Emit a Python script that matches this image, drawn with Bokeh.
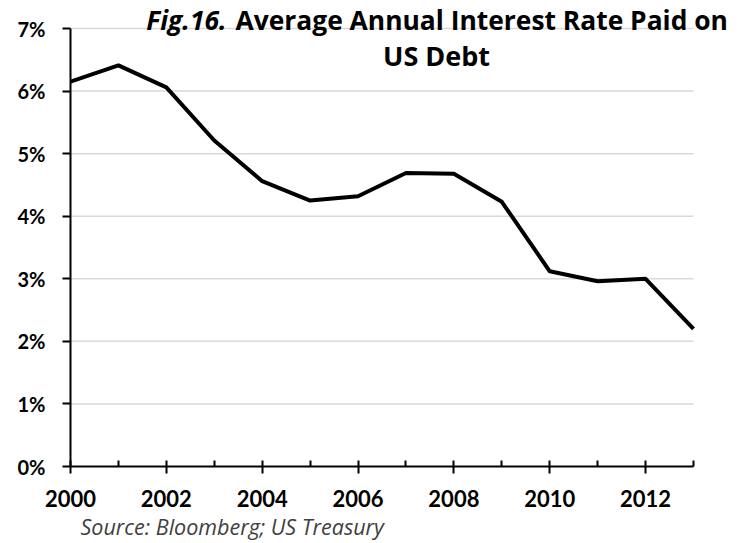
from bokeh.plotting import figure
from bokeh.models import FixedTicker, Label, Range1d, Title
from bokeh.embed import file_html
from bokeh.resources import INLINE

years = [2000, 2001, 2002, 2003, 2004, 2005, 2006, 2007, 2008, 2009, 2010, 2011, 2012, 2013]
rates = [6.15, 6.41, 6.06, 5.21, 4.56, 4.25, 4.32, 4.69, 4.68, 4.23, 3.12, 2.96, 3.00, 2.20]

x_major = [2000, 2002, 2004, 2006, 2008, 2010, 2012]
x_minor = [2001, 2003, 2005, 2007, 2009, 2011, 2013]
y_ticks = [0, 1, 2, 3, 4, 5, 6, 7]
y_labels = ["0%", "1%", "2%", "3%", "4%", "5%", "6%", "7%"]

title_fig = "Fig.16."
title_line1 = "Average Annual Interest Rate Paid on"
title_line2 = "US Debt"
source_text = "Source: Bloomberg; US Treasury"

FONT = "Lato"
TFONT = "Open Sans"

x0, x1 = years[0], years[-1]
y0, y1 = y_ticks[0], y_ticks[-1]

p = figure(width=729, height=543, output_backend="svg", toolbar_location=None,
           x_range=Range1d(x0, 2013.751), y_range=Range1d(y0, 7.3676),
           min_border_left=70, min_border_right=0, min_border_top=5, min_border_bottom=77)
p.outline_line_color = None
p.background_fill_color = "white"
p.border_fill_color = "white"

# horizontal gridlines, bounded to the data span
p.xgrid.grid_line_color = None
p.ygrid.grid_line_color = None
p.segment(x0=[x0] * len(y_ticks[1:]), x1=[x1] * len(y_ticks[1:]), y0=y_ticks[1:], y1=y_ticks[1:],
          line_color="#d9d9d9", line_width=1.5)

p.line(years, rates, line_color="black", line_width=4, line_join="round")

# y axis
p.yaxis.ticker = FixedTicker(ticks=y_ticks)
p.yaxis.bounds = (y0, y1)
p.yaxis.major_label_overrides = {t: l for t, l in zip(y_ticks, y_labels)}
p.yaxis.axis_line_color = "black"
p.yaxis.axis_line_width = 2
p.yaxis.major_tick_in = 0
p.yaxis.major_tick_out = 8
p.yaxis.major_tick_line_width = 2
p.yaxis.minor_tick_line_color = None
p.yaxis.major_label_text_font = FONT
p.yaxis.major_label_text_font_style = "bold"
p.yaxis.major_label_text_font_size = "20px"
p.yaxis.major_label_text_color = "black"
p.yaxis.major_label_standoff = 17

# x axis
p.xaxis.ticker = FixedTicker(ticks=x_major, minor_ticks=x_minor)
p.xaxis.bounds = (x0, x1)
p.xaxis.axis_line_color = "black"
p.xaxis.axis_line_width = 2
p.xaxis.major_tick_in = 6
p.xaxis.major_tick_out = 7
p.xaxis.major_tick_line_width = 2
p.xaxis.minor_tick_in = 6
p.xaxis.minor_tick_out = 0
p.xaxis.minor_tick_line_width = 2
p.xaxis.minor_tick_line_color = "black"
p.xaxis.major_label_text_font = FONT
p.xaxis.major_label_text_font_style = "bold"
p.xaxis.major_label_text_font_size = "22px"
p.xaxis.major_label_text_color = "black"
p.xaxis.major_label_standoff = 16

# title
p.add_layout(Label(x=2003.255, y=7.136, text=title_fig, text_font=TFONT,
                   text_font_style="bold italic", text_font_size="26.4px",
                   text_baseline="alphabetic", text_align="right", text_color="black"))
p.add_layout(Label(x=2003.443, y=7.136, text=title_line1, text_font=TFONT,
                   text_font_style="bold", text_font_size="26.4px",
                   text_baseline="alphabetic", text_align="left", text_color="black"))
p.add_layout(Label(x=2007.637, y=6.575, text=title_line2, text_font=TFONT,
                   text_font_style="bold", text_font_size="27px",
                   text_baseline="alphabetic", text_align="center", text_color="black"))

# source
p.add_layout(Title(text=source_text, align="left", offset=10, standoff=0,
                   text_font=TFONT, text_font_style="italic", text_font_size="21.5px",
                   text_color="#404040"), "below")

open("out.html", "w").write(file_html(p, INLINE))
